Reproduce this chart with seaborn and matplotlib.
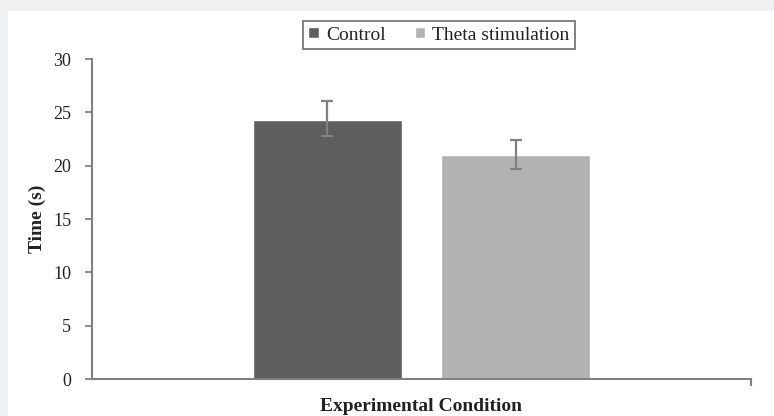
import matplotlib
matplotlib.use("Agg")
import matplotlib.pyplot as plt
from matplotlib.patches import Rectangle
import seaborn as sns
import pandas as pd

# values
groups = ["Control", "Theta stimulation"]
means = [24.3, 21.0]
err_low = [1.5, 1.3]
err_high = [1.8, 1.4]
colors = ["#5e5e5e", "#b2b2b2"]
y_ticks = [0, 5, 10, 15, 20, 25, 30]

df = pd.DataFrame({"condition": [""] * len(groups), "group": groups, "time": means})

sns.set_style("white")
plt.rcParams["font.family"] = ["Liberation Serif", "DejaVu Serif"]

fig = plt.figure(figsize=(7.74, 4.16), dpi=100, facecolor="#f0f1f3")
# white panel behind the chart
fig.add_artist(Rectangle((8 / 774, 0), 1, 1 - 11 / 416, transform=fig.transFigure,
                         facecolor="white", edgecolor="none", zorder=-10))
ax = fig.add_axes([92 / 774, 1 - 379 / 416, (751 - 92) / 774, 320 / 416])
ax.set_facecolor("none")

sns.barplot(data=df, x="condition", y="time", hue="group", palette=colors,
            width=0.571, gap=0.21, saturation=1, errorbar=None, ax=ax, legend=True)

# error bars at the bar centres
for patch, m, lo, hi in zip(ax.patches, means, err_low, err_high):
    cx = patch.get_x() + patch.get_width() / 2
    ax.errorbar(cx, m, yerr=[[lo], [hi]], color="#808080", lw=1.6, capsize=4,
                capthick=1.6, zorder=5)

ax.set_xlim(-0.5, 0.5)
ax.set_ylim(0, 30)
ax.set_yticks(y_ticks)
ax.set_xticks([0.5], [""])
for s in ["top", "right"]:
    ax.spines[s].set_visible(False)
for s in ["left", "bottom"]:
    ax.spines[s].set_color("#808080")
    ax.spines[s].set_linewidth(1.5)
ax.tick_params(axis="y", direction="out", length=5, width=1.3, color="#808080",
               labelsize=13, labelcolor="#222222", pad=10, left=True)
ax.tick_params(axis="x", direction="out", length=5, width=1.5, color="#808080",
               bottom=True, pad=0)
ax.set_xlabel("Experimental Condition", fontsize=14, fontweight="bold", labelpad=9,
              color="#222222")
ax.set_ylabel("Time (s)", fontsize=14, fontweight="bold", labelpad=5, color="#222222")

leg = ax.legend(loc="center", bbox_to_anchor=(439 / 774, 1 - 35 / 416),
                bbox_transform=fig.transFigure, ncol=2, frameon=True, fontsize=14,
                handlelength=0.55, handleheight=0.55, handletextpad=0.35,
                columnspacing=1.5, borderpad=0.3, borderaxespad=0, fancybox=False)
leg.get_frame().set_edgecolor("#555555")
leg.get_frame().set_linewidth(1.3)
for t in leg.get_texts():
    t.set_color("#222222")

fig.savefig("out.png", dpi=100, facecolor=fig.get_facecolor())
